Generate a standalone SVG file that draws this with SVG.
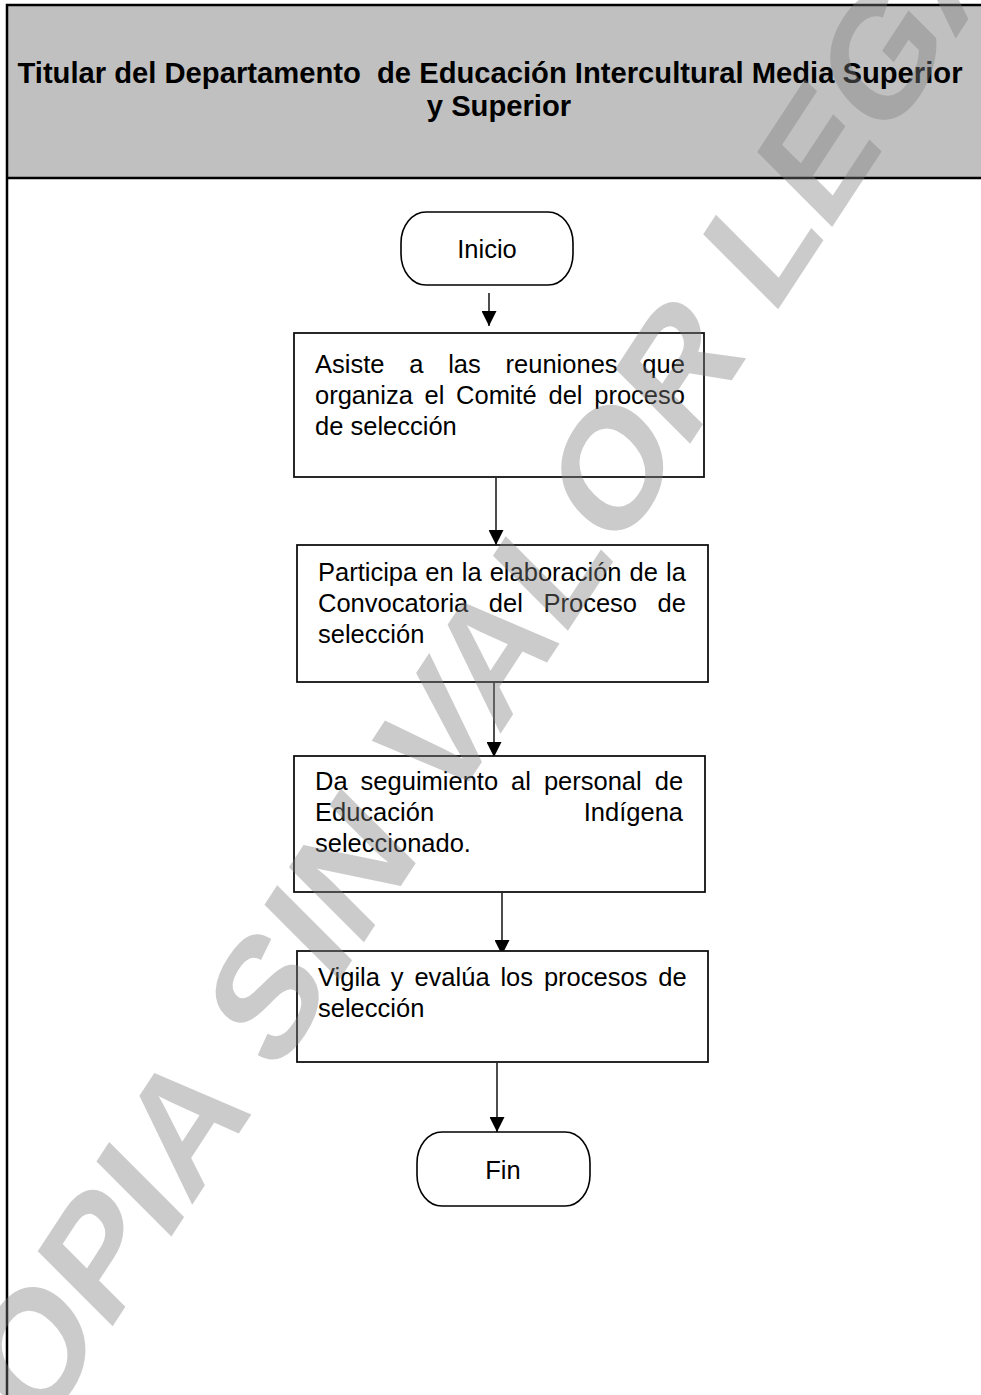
<svg xmlns="http://www.w3.org/2000/svg" width="981" height="1395" viewBox="0 0 981 1395">
  <style>
    .lane-head { fill: #c0c0c0; }
    .frame { stroke: #000; stroke-width: 2.5; fill: none; }
    .box { fill: #fff; stroke: #111; stroke-width: 1.8; }
    .term { fill: #fff; stroke: #000; stroke-width: 1.6; }
    .txt { font-family: "Liberation Sans", Arial, sans-serif; font-size: 25.5px; fill: #000; }
    .mid { text-anchor: middle; }
    .hdr { font-family: "Liberation Sans", Arial, sans-serif; font-size: 29.2px; font-weight: bold; fill: #000; text-anchor: middle; }
    .conn { stroke: #000; stroke-width: 1.4; fill: none; marker-end: url(#arrow); }
    .wm { font-family: "Liberation Sans", Arial, sans-serif; font-size: 140px; font-weight: bold; fill: #808080; opacity: 0.4; }
  </style>
  <defs>
    <marker id="arrow" markerUnits="userSpaceOnUse" viewBox="0 0 15 15" refX="15" refY="7.5" markerWidth="15" markerHeight="15" orient="auto">
      <path d="M0,0 L15,7.5 L0,15 Z" fill="#000"/>
    </marker>
  </defs>

  <rect width="981" height="1395" fill="#fff"/>

  <!-- swimlane header -->
  <g id="lane">
    <rect class="lane-head" x="7" y="5" width="974" height="173"/>
    <path class="frame" d="M981,5 H7 V1395 M7,178 H981"/>
    <text class="hdr" x="490" y="83">Titular del Departamento&#160; de Educación Intercultural Media Superior</text>
    <text class="hdr" x="499" y="116">y Superior</text>
  </g>

  <!-- connectors -->
  <g id="connectors">
    <line class="conn" x1="489" y1="293" x2="489" y2="326"/>
    <line class="conn" x1="496" y1="478" x2="496" y2="545"/>
    <line class="conn" x1="494" y1="683" x2="494" y2="757"/>
    <line class="conn" x1="502" y1="893" x2="502" y2="955"/>
    <line class="conn" x1="497" y1="1063" x2="497" y2="1132"/>
  </g>

  <g id="inicio">
    <rect class="term" x="401" y="212" width="172" height="73" rx="25" ry="31"/>
    <text class="txt mid" x="487" y="258">Inicio</text>
  </g>

  <g id="paso1">
    <rect class="box" x="294" y="333" width="410" height="144"/>
    <text class="txt" x="315" y="373" word-spacing="17.7">Asiste a las reuniones que</text>
    <text class="txt" x="315" y="404" word-spacing="4.6">organiza el Comité del proceso</text>
    <text class="txt" x="315" y="435">de selección</text>
  </g>

  <g id="paso2">
    <rect class="box" x="297" y="545" width="411" height="137"/>
    <text class="txt" x="318" y="581" word-spacing="1">Participa en la elaboración de la</text>
    <text class="txt" x="318" y="612" word-spacing="13.5">Convocatoria del Proceso de</text>
    <text class="txt" x="318" y="643">selección</text>
  </g>

  <g id="paso3">
    <rect class="box" x="294" y="756" width="411" height="136"/>
    <text class="txt" x="315" y="790" word-spacing="5.9">Da seguimiento al personal de</text>
    <text class="txt" x="315" y="821">Educación</text>
    <text class="txt" x="683" y="821" text-anchor="end">Indígena</text>
    <text class="txt" x="315" y="852">seleccionado.</text>
  </g>

  <g id="paso4">
    <rect class="box" x="297" y="951" width="411" height="111"/>
    <text class="txt" x="318" y="986" word-spacing="3.8">Vigila y evalúa los procesos de</text>
    <text class="txt" x="318" y="1017">selección</text>
  </g>

  <g id="fin">
    <rect class="term" x="417" y="1132" width="173" height="74" rx="25" ry="31"/>
    <text class="txt mid" x="503" y="1179">Fin</text>
  </g>

  <!-- diagonal watermark over the page -->
  <text class="wm" transform="translate(-25.5,1537) scale(1,1.237) rotate(-51)">COPIA SIN VALOR LEGAL</text>
</svg>
